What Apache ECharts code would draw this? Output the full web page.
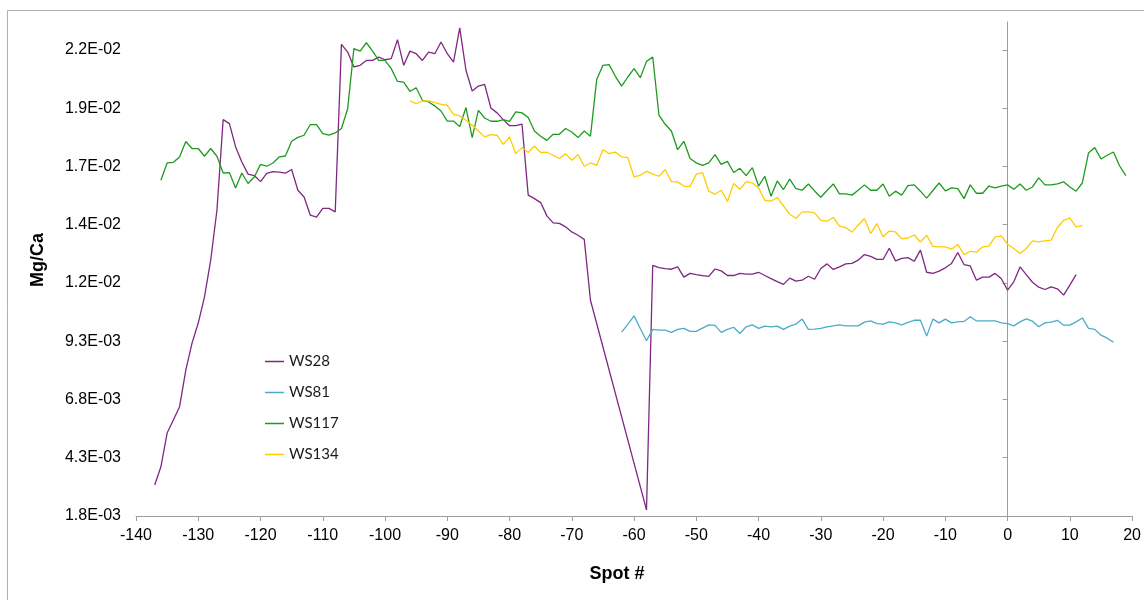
<!DOCTYPE html>
<html>
<head>
<meta charset="utf-8">
<script src="https://cdn.jsdelivr.net/npm/echarts@6/dist/echarts.min.js"></script>
<style>
html,body{margin:0;padding:0;background:#fff;}
#chart{width:1144px;height:600px;}
</style>
</head>
<body>
<div id="chart"></div>
<script>
// ---- data (Mg/Ca per spot #) ----
const seriesNames = ['WS28', 'WS81', 'WS117', 'WS134'];
const xTicks = [-140, -130, -120, -110, -100, -90, -80, -70, -60, -50, -40, -30, -20, -10, 0, 10, 20];
const yTicks = [0.0018, 0.0043, 0.0068, 0.0093, 0.0118, 0.0143, 0.0168, 0.0193, 0.0218];

// WS28: spots -137 .. 11 (no spots -66 .. -59)
const ws28Start = -137;
const ws28 = [
  0.00313, 0.00391, 0.00536, 0.00592, 0.00649, 0.00806, 0.00922, 0.01008, 0.01120, 0.01278, // -137..-128
  0.01492, 0.01881, 0.01864, 0.01764, 0.01699, 0.01647, 0.01641, 0.01615, 0.01650, 0.01658, // -127..-118
  0.01656, 0.01651, 0.01667, 0.01578, 0.01549, 0.01471, 0.01463, 0.01500, 0.01500, 0.01485, // -117..-108
  0.02204, 0.02171, 0.02107, 0.02114, 0.02135, 0.02135, 0.02149, 0.02138, 0.02143, 0.02224, // -107..-98
  0.02114, 0.02175, 0.02164, 0.02135, 0.02171, 0.02164, 0.02214, 0.02164, 0.02128, 0.02275, // -97..-88
  0.02093, 0.02004, 0.02025, 0.02032, 0.01931, 0.01910, 0.01881, 0.01855, 0.01855, 0.01862, // -87..-78
  0.01557, 0.01542, 0.01525, 0.01468, 0.01438, 0.01436, 0.01421, 0.01399, 0.01385, 0.01367, // -77..-68
  0.01106,                                                                                    // -67
  null, null, null, null, null, null, null, null,                                             // -66..-59
  0.00206, 0.01256, 0.01246, 0.01242, 0.01239, 0.01249, 0.01205, 0.01221, 0.01216, 0.01212, // -58..-49
  0.01208, 0.01240, 0.01232, 0.01212, 0.01212, 0.01221, 0.01218, 0.01218, 0.01226, 0.01212, // -48..-39
  0.01199, 0.01186, 0.01174, 0.01201, 0.01188, 0.01192, 0.01209, 0.01196, 0.01242, 0.01262, // -38..-29
  0.01238, 0.01249, 0.01262, 0.01264, 0.01278, 0.01302, 0.01294, 0.01281, 0.01281, 0.01329, // -28..-19
  0.01275, 0.01286, 0.01289, 0.01273, 0.01321, 0.01226, 0.01221, 0.01231, 0.01245, 0.01264, // -18..-9
  0.01311, 0.01259, 0.01253, 0.01192, 0.01205, 0.01205, 0.01221, 0.01198, 0.01149, 0.01185, // -8..1
  0.01249, 0.01216, 0.01183, 0.01162, 0.01152, 0.01163, 0.01155, 0.01128, 0.01171, 0.01216  // 2..11
];

// WS81: spots -62 .. 17
const ws81Start = -62;
const ws81 = [
  0.00969, 0.01002, 0.01039, 0.00985, 0.00932, 0.00981, 0.00978, 0.00978, 0.00968, 0.00981, // -62..-53
  0.00985, 0.00972, 0.00972, 0.00986, 0.01000, 0.00998, 0.00968, 0.00981, 0.00990, 0.00963, // -52..-43
  0.00992, 0.01000, 0.00985, 0.00995, 0.00992, 0.00995, 0.00981, 0.00995, 0.01003, 0.01025, // -42..-33
  0.00981, 0.00982, 0.00985, 0.00992, 0.00996, 0.01000, 0.00996, 0.00996, 0.00996, 0.01012, // -32..-23
  0.01017, 0.01006, 0.01003, 0.01013, 0.01009, 0.01000, 0.01011, 0.01020, 0.01020, 0.00952, // -22..-13
  0.01025, 0.01009, 0.01025, 0.01009, 0.01013, 0.01015, 0.01035, 0.01017, 0.01017, 0.01017, // -12..-3
  0.01017, 0.01009, 0.01006, 0.00996, 0.01013, 0.01026, 0.01016, 0.00992, 0.01009, 0.01012, // -2..7
  0.01020, 0.00999, 0.00999, 0.01013, 0.01030, 0.00985, 0.00981, 0.00956, 0.00943, 0.00926  // 8..17
];

// WS117: spots -136 .. 19
const ws117Start = -136;
const ws117 = [
  0.01621, 0.01695, 0.01698, 0.01721, 0.01787, 0.01757, 0.01757, 0.01724, 0.01757, 0.01724, // -136..-127
  0.01652, 0.01654, 0.01588, 0.01652, 0.01607, 0.01635, 0.01689, 0.01681, 0.01695, 0.01721, // -126..-117
  0.01725, 0.01788, 0.01805, 0.01814, 0.01860, 0.01860, 0.01821, 0.01815, 0.01824, 0.01843, // -116..-107
  0.01928, 0.02186, 0.02175, 0.02211, 0.02175, 0.02135, 0.02135, 0.02100, 0.02045, 0.02042, // -106..-97
  0.02002, 0.02018, 0.01964, 0.01957, 0.01940, 0.01918, 0.01875, 0.01875, 0.01851, 0.01933, // -96..-87
  0.01804, 0.01921, 0.01888, 0.01874, 0.01874, 0.01881, 0.01874, 0.01914, 0.01910, 0.01890, // -86..-77
  0.01832, 0.01810, 0.01792, 0.01818, 0.01818, 0.01843, 0.01828, 0.01804, 0.01832, 0.01810, // -76..-67
  0.02053, 0.02114, 0.02117, 0.02067, 0.02025, 0.02064, 0.02100, 0.02061, 0.02131, 0.02150, // -66..-57
  0.01900, 0.01861, 0.01832, 0.01752, 0.01788, 0.01714, 0.01695, 0.01685, 0.01695, 0.01731, // -56..-47
  0.01689, 0.01702, 0.01654, 0.01672, 0.01641, 0.01675, 0.01596, 0.01638, 0.01552, 0.01618, // -46..-37
  0.01581, 0.01626, 0.01585, 0.01578, 0.01605, 0.01575, 0.01548, 0.01577, 0.01605, 0.01562, // -36..-27
  0.01562, 0.01557, 0.01578, 0.01601, 0.01578, 0.01578, 0.01605, 0.01552, 0.01574, 0.01557, // -26..-17
  0.01598, 0.01601, 0.01574, 0.01544, 0.01577, 0.01609, 0.01575, 0.01588, 0.01585, 0.01542, // -16..-7
  0.01601, 0.01565, 0.01565, 0.01596, 0.01588, 0.01596, 0.01601, 0.01582, 0.01605, 0.01578, // -6..3
  0.01592, 0.01631, 0.01601, 0.01601, 0.01605, 0.01614, 0.01592, 0.01574, 0.01609, 0.01738, // 4..13
  0.01761, 0.01712, 0.01728, 0.01742, 0.01682, 0.01641                                      // 14..19
];

// WS134: spots -96 .. 12
const ws134Start = -96;
const ws134 = [
  0.01961, 0.01950, 0.01961, 0.01961, 0.01954, 0.01947, 0.01942, 0.01904, 0.01897, 0.01878, // -96..-87
  0.01857, 0.01832, 0.01807, 0.01817, 0.01814, 0.01775, 0.01807, 0.01735, 0.01761, 0.01740, // -86..-77
  0.01768, 0.01740, 0.01741, 0.01728, 0.01714, 0.01735, 0.01707, 0.01731, 0.01681, 0.01695, // -76..-67
  0.01685, 0.01752, 0.01735, 0.01742, 0.01721, 0.01718, 0.01635, 0.01642, 0.01659, 0.01647, // -66..-57
  0.01638, 0.01667, 0.01615, 0.01614, 0.01596, 0.01594, 0.01647, 0.01654, 0.01574, 0.01561, // -56..-47
  0.01578, 0.01530, 0.01607, 0.01582, 0.01615, 0.01609, 0.01588, 0.01535, 0.01531, 0.01547, // -46..-37
  0.01511, 0.01475, 0.01458, 0.01485, 0.01485, 0.01481, 0.01449, 0.01445, 0.01461, 0.01424, // -36..-27
  0.01418, 0.01398, 0.01428, 0.01457, 0.01392, 0.01435, 0.01378, 0.01403, 0.01399, 0.01369, // -26..-17
  0.01373, 0.01386, 0.01356, 0.01385, 0.01337, 0.01335, 0.01335, 0.01325, 0.01346, 0.01302, // -16..-7
  0.01316, 0.01312, 0.01335, 0.01338, 0.01378, 0.01382, 0.01346, 0.01328, 0.01306, 0.01328, // -6..3
  0.01361, 0.01356, 0.01361, 0.01364, 0.01418, 0.01449, 0.01458, 0.01421, 0.01427           // 4..12
];

const colors = ['#7E2882', '#4BACC6', '#1E9B1E', '#FFCC00'];

// ---- build ----
function pairs(start, vals) {
  return vals.map((v, i) => [start + i, v]).filter(p => p[1] !== null);
}
const seriesData = [pairs(ws28Start, ws28), pairs(ws81Start, ws81), pairs(ws117Start, ws117), pairs(ws134Start, ws134)];

function fmtSci(v) {
  const s = v.toExponential(1);           // e.g. "1.8e-3"
  const m = s.split('e');
  const exp = parseInt(m[1], 10);
  const sign = exp < 0 ? '-' : '+';
  const a = Math.abs(exp);
  return m[0] + 'E' + sign + (a < 10 ? '0' + a : '' + a);
}

const FONT = '"Liberation Sans", Arial, sans-serif';
const AXIS_COLOR = '#9d9d9d';

const chart = echarts.init(document.getElementById('chart'), null, { renderer: 'canvas' });
chart.setOption({
  backgroundColor: '#ffffff',
  animation: false,
  color: colors,
  grid: { left: 136, right: 11, top: 22, bottom: 84, containLabel: false },
  legend: {
    orient: 'vertical',
    left: 260,
    top: 348,
    icon: 'rect',
    itemWidth: 19,
    itemHeight: 1.5,
    itemGap: 14,
    data: seriesNames,
    textStyle: { fontFamily: 'Lato, "Open Sans", sans-serif', fontSize: 15, color: '#1a1a1a', lineHeight: 17 }
  },
  xAxis: {
    type: 'value',
    min: -140,
    max: 20,
    interval: 10,
    axisLine: { show: true, onZero: false, lineStyle: { color: AXIS_COLOR, width: 1 } },
    axisTick: { show: true, inside: false, length: 5, lineStyle: { color: AXIS_COLOR } },
    axisLabel: {
      fontFamily: FONT, fontSize: 16, color: '#000', margin: 12,
      customValues: xTicks,
      formatter: v => String(v)
    },
    splitLine: { show: false }
  },
  yAxis: [
    {
      type: 'value',
      min: 0.0018,
      max: 0.023,
      position: 'left',
      axisLine: { show: false, onZero: false },
      axisTick: { show: false },
      axisLabel: {
        fontFamily: FONT, fontSize: 16, color: '#000', margin: 15,
        customValues: yTicks,
        formatter: v => fmtSci(v)
      },
      splitLine: { show: false }
    },
    {
      type: 'value',
      min: 0.0018,
      max: 0.023,
      position: 'left',
      axisLine: { show: true, onZero: true, lineStyle: { color: AXIS_COLOR, width: 1 } },
      axisTick: { show: true, inside: false, length: 5, customValues: yTicks, lineStyle: { color: AXIS_COLOR } },
      axisLabel: { show: false },
      splitLine: { show: false }
    }
  ],
  graphic: [
    {
      type: 'rect', silent: true, z: -1,
      shape: { x: 7.5, y: 10.5, width: 1160, height: 620 },
      style: { fill: null, stroke: '#b0b0b0', lineWidth: 1 }
    },
    {
      type: 'text', silent: true,
      x: 38, y: 260, rotation: Math.PI / 2,
      style: { text: 'Mg/Ca', fontFamily: FONT, fontSize: 18, fontWeight: 'bold', fill: '#000', align: 'center', verticalAlign: 'middle' }
    },
    {
      type: 'text', silent: true,
      x: 617, y: 574,
      style: { text: 'Spot #', fontFamily: FONT, fontSize: 18, fontWeight: 'bold', fill: '#000', align: 'center', verticalAlign: 'middle' }
    }
  ],
  series: seriesNames.map((name, i) => ({
    name: name,
    type: 'line',
    yAxisIndex: 0,
    data: seriesData[i],
    showSymbol: false,
    symbol: 'none',
    lineStyle: { width: 1.3, color: colors[i] },
    itemStyle: { color: colors[i] },
    emphasis: { disabled: true }
  }))
});
</script>
</body>
</html>
